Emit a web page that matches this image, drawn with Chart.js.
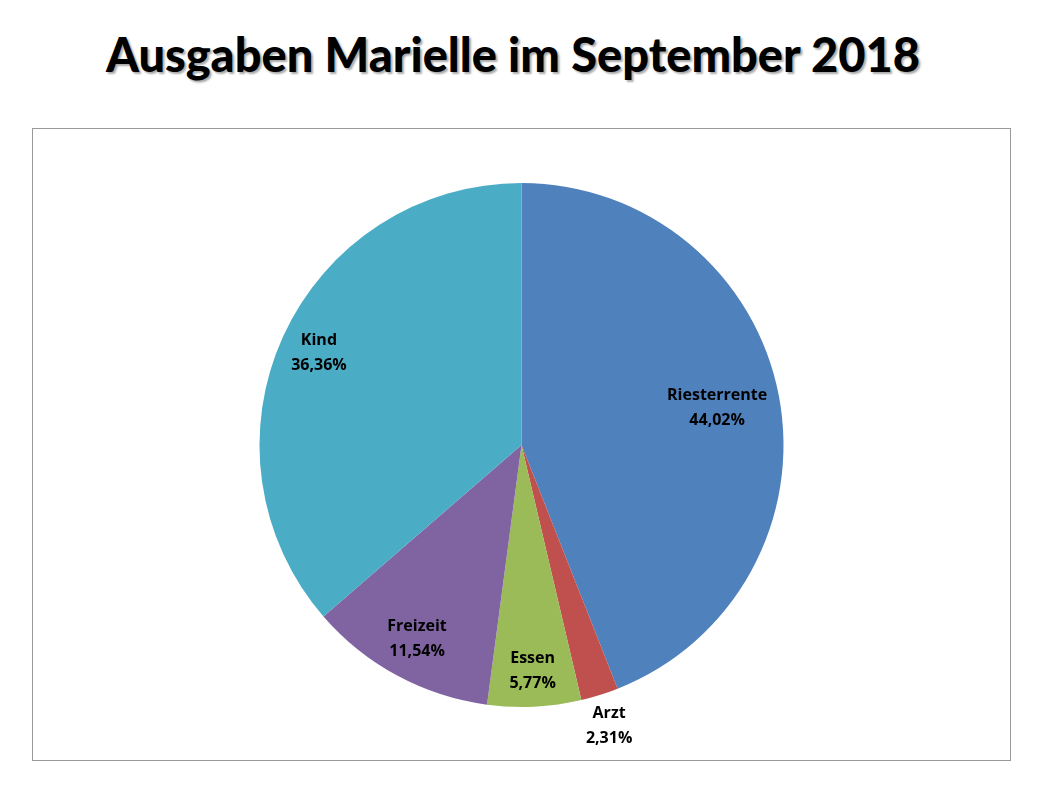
<!DOCTYPE html>
<html><head><meta charset="utf-8">
<script src="https://cdn.jsdelivr.net/npm/chart.js@4"></script>
<style>
body{margin:0;background:#fff;width:1042px;height:802px;position:relative;font-family:Lato,sans-serif}
#title{position:absolute;left:0;width:1026px;top:26px;text-align:center;font:900 47px Lato,sans-serif;color:#000;text-shadow:2px 2px 2px #aaa}
#box{position:absolute;left:32px;top:128px;width:977px;height:631px;border:1px solid #999}
</style></head><body>
<div id="title">Ausgaben Marielle im September 2018</div>
<div id="box"><canvas id="c" width="977" height="631"></canvas></div>
<script>
const categories=["Riesterrente","Arzt","Essen","Freizeit","Kind"];
const values=[44.02,2.31,5.77,11.54,36.36];
const valueLabels=["44,02%","2,31%","5,77%","11,54%","36,36%"];
const colors=["#4F81BD","#C0504D","#9BBB59","#8064A2","#4BACC6"];
const labelDist=[0.76,1.12,0.86,0.84,0.85];
const labelPlugin={id:"lbl",afterDraw(chart){
  const ctx=chart.ctx;const meta=chart.getDatasetMeta(0);
  ctx.save();ctx.font="bold 16px 'Open Sans',sans-serif";ctx.fillStyle="#000";ctx.textAlign="center";ctx.textBaseline="middle";
  meta.data.forEach((a,i)=>{const m=(a.startAngle+a.endAngle)/2;const r=a.outerRadius*labelDist[i];
    const x=a.x+Math.cos(m)*r,y=a.y+Math.sin(m)*r;
    ctx.fillText(categories[i],x,y-12);ctx.fillText(valueLabels[i],x,y+13);});
  ctx.restore();}};
new Chart(document.getElementById("c"),{type:"pie",
 data:{labels:categories,datasets:[{data:values,backgroundColor:colors,borderWidth:0}]},
 options:{responsive:false,animation:false,layout:{padding:{top:54,bottom:53}},
  plugins:{legend:{display:false},tooltip:{enabled:false}}},
 plugins:[labelPlugin]});
</script></body></html>
